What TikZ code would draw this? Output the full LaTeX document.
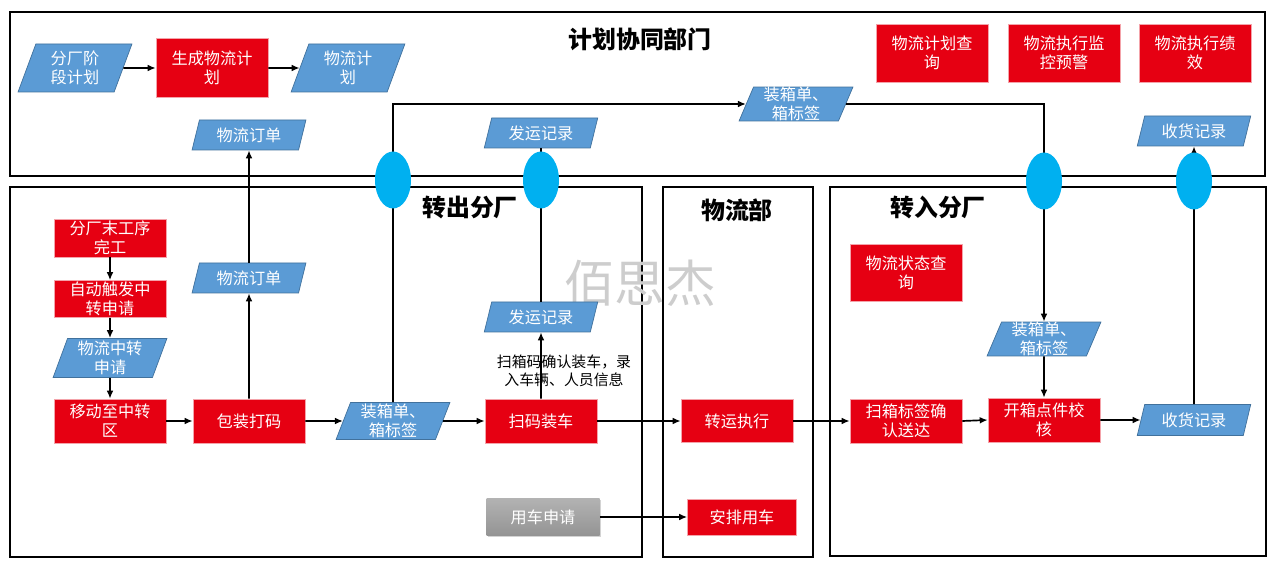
\documentclass[tikz,border=0pt]{standalone}
\usepackage{fontspec}
\usetikzlibrary{arrows.meta,shapes.geometric,shadows}
\newfontfamily\cjk{Noto Sans CJK SC}
\definecolor{FlowRed}{HTML}{E60012}
\definecolor{RedEdge}{HTML}{F4A3AA}
\definecolor{DocBlue}{HTML}{5B9BD5}
\definecolor{DocEdge}{HTML}{41719C}
\definecolor{LinkCyan}{HTML}{00B0F0}
\definecolor{Mark}{HTML}{CDCDCD}

\begin{document}
\begin{tikzpicture}[
    x=0.25mm, y=-0.25mm,
    font=\cjk,
    frame/.style={
        draw=black,
        line width=1.4pt
    },
    paneltitle/.style={
        font=\cjk\bfseries\fontsize{17}{20}\selectfont
    },
    redbox/.style={
        rectangle,
        fill=FlowRed,
        draw=RedEdge,
        line width=0.4pt,
        text=white,
        align=center,
        inner sep=0pt,
        minimum width=28mm,
        minimum height=11mm,
        font=\cjk\fontsize{11.5}{13.5}\selectfont
    },
    doc/.style={
        trapezium,
        trapezium left angle=72,
        trapezium right angle=108,
        trapezium stretches=true,
        fill=DocBlue,
        draw=DocEdge,
        line width=0.5pt,
        text=white,
        align=center,
        inner sep=0pt,
        minimum width=28.5mm,
        minimum height=7.5mm,
        font=\cjk\fontsize{11.5}{13.5}\selectfont
    },
    graybox/.style={
        rectangle,
        top color=black!30,
        bottom color=black!42,
        draw=none,
        drop shadow={shadow xshift=1pt, shadow yshift=-1.2pt, opacity=0.35},
        text=white,
        align=center,
        inner sep=0pt,
        minimum width=28.25mm,
        minimum height=9.25mm,
        font=\cjk\fontsize{11.5}{13.5}\selectfont
    },
    link/.style={
        ellipse,
        fill=LinkCyan,
        inner sep=0pt,
        minimum width=9mm,
        minimum height=14.25mm
    },
    arrow/.style={
        -{Latex[length=2mm,width=1.7mm]},
        line width=1.2pt
    },
    wire/.style={
        line width=1.2pt
    },
    notetext/.style={
        font=\cjk\fontsize{10.6}{12.5}\selectfont,
        align=center
    }
]

\useasboundingbox (0,0) rectangle (1280,580);

% Panels
\draw[frame] (10,12) rectangle (1265,176);
\draw[frame] (10,187) rectangle (642,557);
\draw[frame] (663,187) rectangle (813,557);
\draw[frame] (830,187) rectangle (1266,556);

% Panel headings
\node[paneltitle] (tplan) at (640,39) {计划协同部门};
\node[paneltitle] (tout) at (470,208) {转出分厂};
\node[paneltitle] (tlog) at (737,210) {物流部};
\node[paneltitle] (tin) at (938,207) {转入分厂};

% Watermark
\node[font=\cjk\fontsize{36}{40}\selectfont, text=Mark] (mark) at (640,283) {佰思杰};

% ===========================
% planning department
% ===========================
\node[doc, minimum height=12mm] (stage) at (75,68) {分厂阶\\段计划};
\node[redbox, minimum height=14.75mm] (genplan) at (212,68) {生成物流计\\划};
\node[doc, minimum height=12mm] (plan) at (348,68) {物流计\\划};
\node[doc] (ordtop) at (249,135) {物流订单};
\node[doc] (shiptop) at (541,133) {发运记录};
\node[doc] (boxtop) at (796,104) {装箱单、\\箱标签};
\node[doc] (recvtop) at (1194,131) {收货记录};

\node[redbox, minimum height=14.5mm] (query) at (932,53) {物流计划查\\询};
\node[redbox, minimum height=14.5mm] (monitor) at (1064,53) {物流执行监\\控预警};
\node[redbox, minimum height=14.5mm] (perf) at (1195,53) {物流执行绩\\效};

\draw[arrow] (stage.east) -- (genplan.west);
\draw[arrow] (genplan.east) -- (plan.west);

% ===========================
% sending plant
% ===========================
\node[redbox, minimum height=9.5mm] (finish) at (110,238) {分厂末工序\\完工};
\node[redbox, minimum height=9.25mm] (trigger) at (110,299) {自动触发中\\转申请};
\node[doc, minimum height=9.75mm] (request) at (110,358) {物流中转\\申请};
\node[redbox] (move) at (110,421) {移动至中转\\区};
\node[redbox] (pack) at (249,421) {包装打码};
\node[doc] (ordmid) at (249,278) {物流订单};
\node[doc, minimum height=9.25mm] (boxmid) at (393,421) {装箱单、\\箱标签};
\node[doc] (shipmid) at (541,317) {发运记录};
\node[redbox] (scan) at (541,421) {扫码装车};
\node[notetext] (note) at (564,371) {扫箱码确认装车，录\\入车辆、人员信息};
\node[graybox] (apply) at (543,517) {用车申请};

\draw[arrow] (finish.south) -- (trigger.north);
\draw[arrow] (trigger.south) -- (request.north);
\draw[arrow] (request.south) -- (move.north);
\draw[arrow] (move.east) -- (pack.west);
\draw[arrow] (pack.east) -- (boxmid.west);
\draw[arrow] (boxmid.east) -- (scan.west);
\draw[arrow] (pack.north) -- (ordmid.south);
\draw[arrow] (ordmid.north) -- (ordtop.south);
\draw[arrow] (scan.north) -- (shipmid.south);

% ===========================
% logistics department
% ===========================
\node[redbox, minimum height=10.75mm] (transit) at (737,421) {转运执行};
\node[redbox, minimum width=27.25mm, minimum height=9mm] (arrange) at (742,517) {安排用车};

\draw[arrow] (scan.east) -- (transit.west);
\draw[arrow] (apply.east) -- (arrange.west);

% ===========================
% receiving plant
% ===========================
\node[redbox, minimum height=14.25mm] (status) at (906,273) {物流状态查\\询};
\node[doc, minimum height=7.75mm] (boxin) at (1044,339) {装箱单、\\箱标签};
\node[redbox] (confirm) at (906,421) {扫箱标签确\\认送达};
\node[redbox] (open) at (1044,420) {开箱点件校\\核};
\node[doc, minimum height=7.75mm] (recv) at (1194,420) {收货记录};

\draw[arrow] (transit.east) -- (confirm.west);
\draw[arrow] (confirm.east) -- (open.west);
\draw[arrow] (open.east) -- (recv.west);
\draw[arrow] (boxin.south) -- (open.north);

% Links between panels
\draw[wire] (boxmid.north) -- (393,180);
\draw[arrow] (393,180) |- (boxtop.west);
\draw[wire] (boxtop.east) -| (1044,181);
\draw[arrow] (1044,181) -- (boxin.north);
\draw[wire] (shipmid.north) -- (shiptop.south);
\draw[wire] (recv.north) -- (1194,181);
\draw[arrow] (1194,181) -- (recvtop.south);

\node[link] (e1) at (393,180) {};
\node[link] (e2) at (541,180) {};
\node[link] (e3) at (1044,181) {};
\node[link] (e4) at (1194,181) {};

\end{tikzpicture}
\end{document}
